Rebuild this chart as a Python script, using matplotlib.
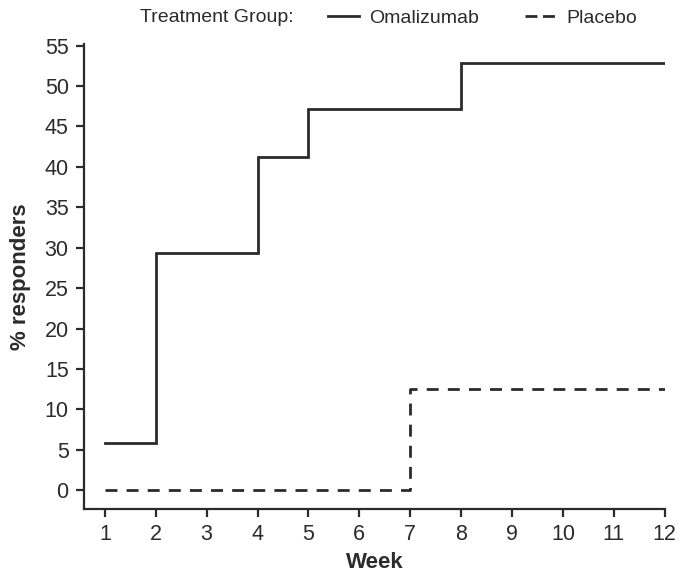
import matplotlib.pyplot as plt
from matplotlib.lines import Line2D

plt.rcParams['font.family'] = ['Liberation Sans', 'DejaVu Sans']

weeks = [1, 2, 3, 4, 5, 6, 7, 8, 9, 10, 11, 12]
omalizumab = [5.9, 29.4, 29.4, 41.2, 47.1, 47.1, 47.1, 52.9, 52.9, 52.9, 52.9, 52.9]
placebo = [0, 0, 0, 0, 0, 0, 12.5, 12.5, 12.5, 12.5, 12.5, 12.5]
yticks = list(range(0, 56, 5))

col = '#2b2b2b'
dash = (0, (4.3, 3.3))
fig = plt.figure(figsize=(6.86, 5.78), dpi=100)
ax = fig.add_axes([0.1224, 0.119, 0.8466, 0.805])

ax.step(weeks, omalizumab, where='post', color=col, lw=2.0, solid_joinstyle='miter')
ax.step(weeks, placebo, where='post', color=col, lw=2.0, ls=dash)

ax.set_xlim(0.59, 12)
ax.set_ylim(-2.35, 55.2)
ax.set_xticks(weeks)
ax.set_yticks(yticks)
for s in ['top', 'right']:
    ax.spines[s].set_visible(False)
for s in ['left', 'bottom']:
    ax.spines[s].set_linewidth(1.6)
    ax.spines[s].set_color(col)
ax.tick_params(direction='out', length=6, width=1.6, color=col, labelsize=15.5, labelcolor=col, pad=5)
ax.set_xlabel('Week', fontsize=16, fontweight='bold', color=col, labelpad=5)
ax.set_ylabel('% responders', fontsize=16, fontweight='bold', color=col, labelpad=10)

fig.text(0.204, 0.97, 'Treatment Group:', fontsize=14, color=col, va='center')
handles = [Line2D([], [], color=col, lw=2.0),
           Line2D([], [], color=col, lw=2.0, ls=(0, (4.3, 2.0)))]
fig.legend(handles, ['Omalizumab', 'Placebo'], ncol=2, frameon=False,
           loc='center', bbox_to_anchor=(0.7034, 0.968), fontsize=14,
           handlelength=1.6, columnspacing=2.4, handletextpad=0.5, labelcolor=col)

fig.savefig('out.png', dpi=100)
